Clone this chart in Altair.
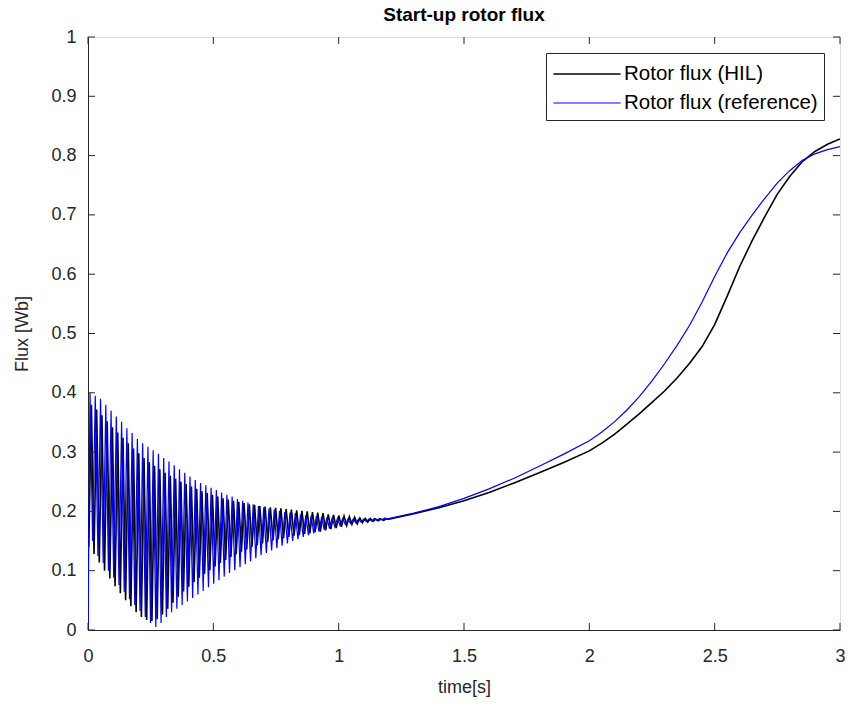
import altair as alt
import pandas as pd

# ---------------- data ----------------
SERIES = ["Rotor flux (HIL)", "Rotor flux (reference)"]
COLORS = ["#000000", "#0000FF"]

# oscillation sampling: one cycle = 0.021 s, peak / trough per cycle
CYCLE = 0.021
BLUE_PEAK_T0, BLUE_TROUGH_T0 = 0.008, 0.0185
BLACK_PEAK_T0, BLACK_TROUGH_T0 = 0.0135, 0.003

blue_start = [0.0, 0.0]
black_start = [0.0, 0.145]

blue_hi = [0.400, 0.395, 0.390, 0.380, 0.370, 0.360, 0.351, 0.340, 0.332, 0.322,
           0.315, 0.309, 0.303, 0.297, 0.290, 0.284, 0.278, 0.271, 0.265, 0.259,
           0.253, 0.248, 0.244, 0.240, 0.236, 0.232, 0.228, 0.225, 0.221, 0.218,
           0.215, 0.212, 0.209, 0.207, 0.205, 0.203, 0.201, 0.199, 0.198, 0.197,
           0.195, 0.194, 0.193, 0.192, 0.191, 0.190, 0.189, 0.188, 0.188, 0.187,
           0.187, 0.187, 0.187, 0.187, 0.188, 0.188, 0.189]
blue_lo = [0.150, 0.125, 0.113, 0.100, 0.088, 0.076, 0.064, 0.052, 0.042, 0.032,
           0.022, 0.012, 0.005, 0.012, 0.022, 0.030, 0.036, 0.042, 0.048, 0.054,
           0.060, 0.066, 0.072, 0.078, 0.084, 0.090, 0.096, 0.101, 0.106, 0.111,
           0.116, 0.121, 0.126, 0.130, 0.134, 0.138, 0.142, 0.146, 0.150, 0.153,
           0.157, 0.160, 0.163, 0.166, 0.169, 0.171, 0.174, 0.176, 0.178, 0.180,
           0.181, 0.182, 0.183, 0.184, 0.185, 0.186, 0.187]
black_hi = [0.380, 0.372, 0.362, 0.352, 0.342, 0.333, 0.324, 0.315, 0.306, 0.298,
            0.290, 0.283, 0.277, 0.271, 0.265, 0.260, 0.255, 0.250, 0.246, 0.242,
            0.238, 0.234, 0.231, 0.228, 0.225, 0.222, 0.220, 0.218, 0.216, 0.214,
            0.212, 0.211, 0.209, 0.208, 0.207, 0.206, 0.205, 0.204, 0.203, 0.202,
            0.201, 0.200, 0.199, 0.198, 0.197, 0.195, 0.194, 0.193, 0.192, 0.191,
            0.190, 0.189, 0.188, 0.188, 0.187, 0.187, 0.187]
black_lo = [0.140, 0.128, 0.114, 0.100, 0.087, 0.074, 0.062, 0.050, 0.040, 0.030,
            0.022, 0.017, 0.015, 0.018, 0.026, 0.036, 0.046, 0.056, 0.065, 0.073,
            0.081, 0.088, 0.095, 0.101, 0.107, 0.113, 0.118, 0.123, 0.128, 0.132,
            0.136, 0.140, 0.143, 0.146, 0.149, 0.151, 0.153, 0.155, 0.157, 0.159,
            0.160, 0.162, 0.163, 0.165, 0.166, 0.168, 0.170, 0.172, 0.174, 0.176,
            0.178, 0.179, 0.181, 0.182, 0.183, 0.184, 0.185]

smooth_t = [1.2, 1.3, 1.4, 1.5, 1.6, 1.7, 1.8, 1.9, 2.0, 2.05, 2.1, 2.15, 2.2, 2.25,
            2.3, 2.35, 2.4, 2.45, 2.5, 2.55, 2.6, 2.65, 2.7, 2.75, 2.8, 2.85, 2.9,
            2.95, 3.0]
blue_smooth = [0.188, 0.197, 0.208, 0.222, 0.238, 0.256, 0.276, 0.297, 0.319, 0.334,
               0.351, 0.371, 0.394, 0.420, 0.449, 0.480, 0.514, 0.553, 0.596, 0.636,
               0.670, 0.700, 0.728, 0.754, 0.775, 0.792, 0.803, 0.810, 0.815]
black_smooth = [0.187, 0.196, 0.206, 0.218, 0.232, 0.248, 0.265, 0.283, 0.302, 0.315,
                0.330, 0.347, 0.365, 0.384, 0.403, 0.425, 0.450, 0.478, 0.515, 0.563,
                0.613, 0.657, 0.697, 0.735, 0.765, 0.790, 0.807, 0.819, 0.828]

x_ticks = [0, 0.5, 1, 1.5, 2, 2.5, 3]
y_ticks = [0, 0.1, 0.2, 0.3, 0.4, 0.5, 0.6, 0.7, 0.8, 0.9, 1]


# ---------------- build table ----------------
def build(name, start, hi, lo, t_hi0, t_lo0, sm):
    rows = [(start[0], start[1])]
    for j, v in enumerate(hi):
        rows.append((t_hi0 + j * CYCLE, v))
    for j, v in enumerate(lo):
        rows.append((t_lo0 + j * CYCLE, v))
    for t, v in zip(smooth_t, sm):
        rows.append((t, v))
    rows.sort()
    return pd.DataFrame({"t": [r[0] for r in rows], "v": [r[1] for r in rows], "s": name})


df = pd.concat([
    build(SERIES[0], black_start, black_hi, black_lo, BLACK_PEAK_T0, BLACK_TROUGH_T0, black_smooth),
    build(SERIES[1], blue_start, blue_hi, blue_lo, BLUE_PEAK_T0, BLUE_TROUGH_T0, blue_smooth),
], ignore_index=True)

FONT = "Liberation Sans"
TXT = "#262626"
XS = alt.Scale(domain=[0, 3], nice=False, zero=False)
YS = alt.Scale(domain=[0, 1], nice=False, zero=False)

lines = alt.Chart(df).mark_line(clip=True).encode(
    x=alt.X("t:Q", scale=XS,
            axis=alt.Axis(values=x_ticks, format="~g", title="time[s]", grid=False, ticks=False,
                          labelFontSize=18, titleFontSize=18, labelColor=TXT, titleColor=TXT,
                          labelFont=FONT, titleFont=FONT, titleFontWeight="normal",
                          labelPadding=17, titlePadding=13, domainColor=TXT, labelFlush=False)),
    y=alt.Y("v:Q", scale=YS,
            axis=alt.Axis(values=y_ticks, format="~g", title="Flux [Wb]", grid=False, ticks=False,
                          labelFontSize=18, titleFontSize=18, labelColor=TXT, titleColor=TXT,
                          labelFont=FONT, titleFont=FONT, titleFontWeight="normal",
                          labelPadding=12, titlePadding=19, domainColor=TXT, labelFlush=False)),
    color=alt.Color("s:N", scale=alt.Scale(domain=SERIES, range=COLORS),
                    legend=alt.Legend(title=None, orient="top-right", offset=16,
                                      symbolType="M-2.4,0L2.4,0", symbolSize=784,
                                      symbolStrokeWidth=1.2, symbolOffset=20,
                                      labelFontSize=20.5, labelFont=FONT, labelColor="#000000",
                                      labelLimit=400, labelOffset=22, strokeColor=TXT,
                                      fillColor="#FFFFFF", padding=6, rowPadding=3)),
    strokeWidth=alt.StrokeWidth("s:N", scale=alt.Scale(domain=SERIES, range=[1.6, 1.2]), legend=None),
    order=alt.Order("t:Q"),
)

xt = pd.DataFrame({"x": x_ticks})
yt = pd.DataFrame({"y": y_ticks})
TL_Y = 0.0118
TL_X = 0.028
tick_style = dict(color=TXT, strokeWidth=1)
bx = alt.Chart(xt).mark_rule(**tick_style).encode(
    x=alt.X("x:Q", scale=XS), y=alt.datum(0), y2=alt.datum(TL_Y))
tx = alt.Chart(xt).mark_rule(**tick_style).encode(
    x=alt.X("x:Q", scale=XS), y=alt.datum(1), y2=alt.datum(1 - TL_Y))
ly = alt.Chart(yt).mark_rule(**tick_style).encode(
    y=alt.Y("y:Q", scale=YS), x=alt.datum(0), x2=alt.datum(TL_X))
ry = alt.Chart(yt).mark_rule(**tick_style).encode(
    y=alt.Y("y:Q", scale=YS), x=alt.datum(3), x2=alt.datum(3 - TL_X))

chart = alt.layer(lines, bx, tx, ly, ry).properties(
    width=752, height=593,
    title=alt.Title("Start-up rotor flux", fontSize=19, font=FONT, fontWeight="bold",
                    color="#000000", offset=3, anchor="middle"),
    autosize=alt.AutoSizeParams(type="none"),
    padding={"left": 88, "top": 37, "right": 10, "bottom": 76},
).configure_view(stroke=TXT, strokeWidth=1).configure(background="#FFFFFF")

chart.save("out.html", embed_options={"renderer": "svg", "actions": False})
